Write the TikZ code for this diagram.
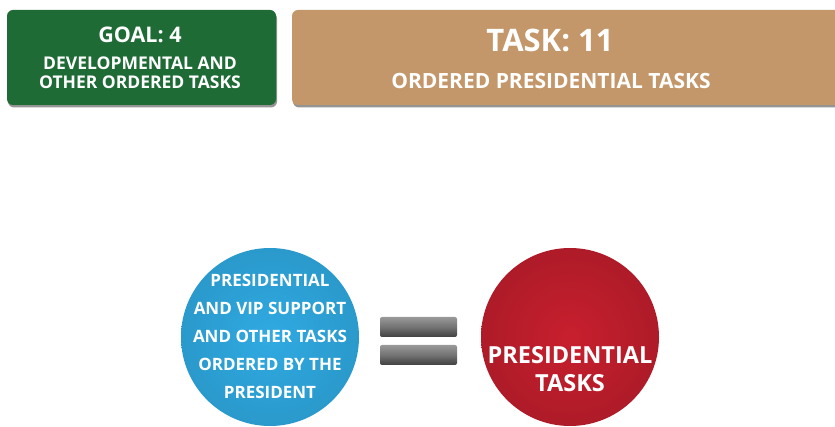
\documentclass[tikz,border=0pt]{standalone}
\usepackage{fontspec}
\setmainfont{Open Sans}
\usetikzlibrary{shadows}
\definecolor{goalgreen}{HTML}{1F6B36}
\definecolor{tasktan}{HTML}{C4976A}
\definecolor{circblue}{HTML}{2FAAE2}
\definecolor{circred}{HTML}{C81F2E}
\tikzset{
  panel/.style={rounded corners=6pt, draw=none, drop shadow={shadow xshift=1pt, shadow yshift=-2.5pt, opacity=0.6, fill=black!70}},
  paneltext/.style={text=white, font=\bfseries, align=center, inner sep=0pt, anchor=base},
  disc/.style={circle, draw=none, minimum size=178pt, inner sep=0pt},
  eqbar/.style={rounded corners=2pt, top color=black!40, bottom color=black!75, middle color=black!55},
}
\begin{document}
\begin{tikzpicture}[x=1pt,y=-1pt]
\useasboundingbox (0,0) rectangle (835,427);
\clip (0,0) rectangle (835,427);
% panels
\path[panel, fill=goalgreen] (7,10) rectangle (276,105);
\path[panel, fill=tasktan] (292,10) rectangle (850,105);
\node[paneltext, font=\bfseries\fontsize{21.5}{21.5}\selectfont] (goal) at (140,43) {GOAL: 4};
\node[paneltext, font=\bfseries\fontsize{17.5}{17.5}\selectfont] (goaldesc1) at (140,70) {DEVELOPMENTAL AND};
\node[paneltext, font=\bfseries\fontsize{17.5}{17.5}\selectfont] (goaldesc2) at (140,89) {OTHER ORDERED TASKS};
\node[paneltext, font=\bfseries\fontsize{31}{31}\selectfont] (task) at (550,52) {TASK: 11};
\node[paneltext, font=\bfseries\fontsize{21}{21}\selectfont] (taskdesc) at (551,89) {ORDERED PRESIDENTIAL TASKS};
% circles
\node[disc, inner color=circblue, outer color=circblue!90!black] (blue) at (270,337) {};
\node[paneltext, anchor=center, font=\bfseries\fontsize{17}{28}\selectfont] (bluetext) at (270,336) {PRESIDENTIAL\\AND VIP SUPPORT\\AND OTHER TASKS\\ORDERED BY THE\\PRESIDENT};
\node[disc, inner color=circred, outer color=circred!87!black] (red) at (570,337) {};
\node[paneltext, anchor=center, font=\bfseries\fontsize{23.5}{28}\selectfont] (redtext) at (570,369) {PRESIDENTIAL\\TASKS};
% equals sign
\path[eqbar] (380,317) rectangle (457,337);
\path[eqbar] (380,345) rectangle (457,365);
\end{tikzpicture}
\end{document}
